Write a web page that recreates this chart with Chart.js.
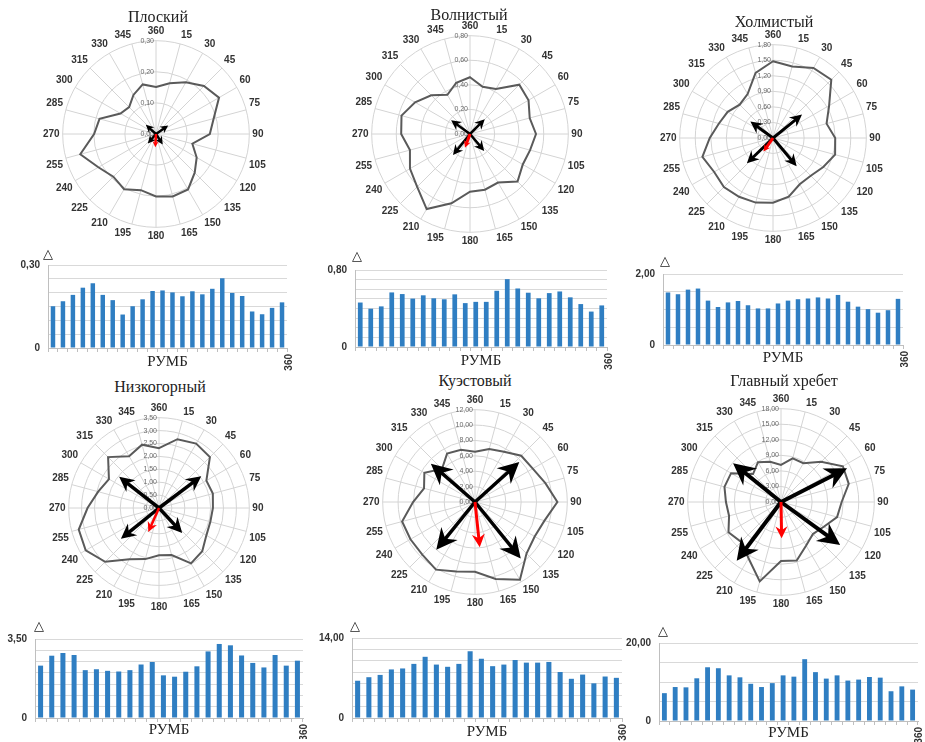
<!DOCTYPE html>
<html>
<head>
<meta charset="utf-8">
<script src="https://cdn.jsdelivr.net/npm/chart.js@4.4.1/dist/chart.umd.min.js"></script>
<style>
  html, body { margin: 0; padding: 0; background: #fff; }
  body { position: relative; width: 925px; height: 742px; overflow: hidden; font-family: "Liberation Sans", Arial, sans-serif; }
  canvas { position: absolute; }
  .title { position: absolute; font-family: "Liberation Serif", "Times New Roman", serif; font-size: 16px; color: #222; transform: translate(-50%, -50%); white-space: nowrap; }
  .delta { position: absolute; font-family: "DejaVu Sans", sans-serif; font-size: 13px; color: #222; transform: translate(-50%, -50%); line-height: 1; }
</style>
</head>
<body>
<script>
// Rhumb directions, clockwise from north
const RUMBS = ['360','15','30','45','60','75','90','105','120','135','150','165',
               '180','195','210','225','240','255','270','285','300','315','330','345'];

// Relief amplitude by rhumb for each landscape type
const FLAT     = [0.151,0.169,0.192,0.218,0.234,0.192,0.173,0.121,0.151,0.176,0.206,0.208,
                  0.201,0.187,0.205,0.194,0.214,0.252,0.199,0.188,0.132,0.122,0.145,0.165];
const WAVY     = [0.462,0.398,0.422,0.567,0.550,0.503,0.537,0.506,0.496,0.547,0.456,0.469,
                  0.469,0.584,0.705,0.608,0.564,0.506,0.560,0.577,0.516,0.446,0.368,0.432];
const HILLY    = [1.48,1.43,1.56,1.59,1.25,1.07,1.20,1.24,1.12,1.03,1.03,1.17,
                  1.25,1.29,1.31,1.34,1.31,1.41,1.22,1.08,1.01,0.91,0.98,1.30];
const LOWMOUNT = [2.32,2.76,2.88,2.79,2.12,2.16,2.09,2.06,2.12,2.37,2.48,1.89,
                  1.83,2.05,2.29,2.95,3.28,3.22,2.77,2.44,2.24,2.79,2.32,2.54];
const CUESTA   = [6.52,7.14,7.54,8.50,8.67,9.47,10.71,9.35,8.96,9.47,11.68,10.37,
                  9.07,9.35,10.15,9.69,9.69,9.81,8.05,6.86,7.60,6.07,7.26,7.03];
const RIDGE    = [7.14,8.71,8.63,10.95,13.78,13.53,11.70,11.20,9.54,8.71,9.71,11.70,
                  11.37,15.85,12.53,10.87,11.70,10.37,10.62,11.29,11.12,7.63,8.88,8.05];

// Direction vectors: [bearing in degrees, magnitude in axis units]
const FLAT_ARROWS     = [[55,0.048],[312,0.044],[221,0.040],[147,0.040]];
const WAVY_ARROWS     = [[45,0.17],[306,0.19],[219,0.22],[140,0.18]];
const HILLY_ARROWS    = [[51,0.72],[306,0.54],[226,0.70],[140,0.71]];
const LOWMOUNT_ARROWS = [[53,2.05],[308,1.96],[231,1.90],[137,1.32]];
const CUESTA_ARROWS   = [[48,7.75],[311,7.6],[219,8.0],[141,9.45]];
const RIDGE_ARROWS    = [[63,14.3],[309,11.9],[217,14.2],[126,14.1]];
// Resultant vector of each landscape
const FLAT_RESULT     = [183,0.043];
const WAVY_RESULT     = [200,0.12];
const HILLY_RESULT    = [215,0.32];
const LOWMOUNT_RESULT = [204,1.02];
const CUESTA_RESULT   = [174,5.9];
const RIDGE_RESULT    = [179,7.0];

const LANDSCAPES = [
  { title: 'Плоский',        data: FLAT,     max: 0.3, rStep: 0.1, barStep: 0.05, arrows: FLAT_ARROWS,     result: FLAT_RESULT },
  { title: 'Волнистый',      data: WAVY,     max: 0.8, rStep: 0.2, barStep: 0.1,  arrows: WAVY_ARROWS,     result: WAVY_RESULT },
  { title: 'Холмистый',      data: HILLY,    max: 1.8, rStep: 0.3, barStep: 0.5,  arrows: HILLY_ARROWS,    result: HILLY_RESULT, barMax: 2 },
  { title: 'Низкогорный',    data: LOWMOUNT, max: 3.5, rStep: 0.5, barStep: 0.5,  arrows: LOWMOUNT_ARROWS, result: LOWMOUNT_RESULT },
  { title: 'Куэстовый',      data: CUESTA,   max: 12,  rStep: 2,   barStep: 2,    arrows: CUESTA_ARROWS,   result: CUESTA_RESULT, barMax: 14 },
  { title: 'Главный хребет', data: RIDGE,    max: 18,  rStep: 3,   barStep: 5,    arrows: RIDGE_ARROWS,    result: RIDGE_RESULT, barMax: 20 }
];

// Page placement of the polar diagrams and the bar panels
const RADAR_BOX = [
  { cx: 157, cy: 134, r: 93, tx: 158, ty: 17,  lw: 2.5, head: 8,  rlw: 2.5, rhead: 6 },
  { cx: 471, cy: 134, r: 98, tx: 469, ty: 15,  lw: 2.5, head: 10, rlw: 3,   rhead: 7 },
  { cx: 774, cy: 138, r: 93, tx: 774, ty: 22,  lw: 3,   head: 12, rlw: 3,   rhead: 7 },
  { cx: 160, cy: 508, r: 90, tx: 160, ty: 387, lw: 3.5, head: 15, rlw: 2.5, rhead: 10 },
  { cx: 476, cy: 502, r: 92, tx: 475, ty: 381, lw: 3.5, head: 21, rlw: 3,   rhead: 13 },
  { cx: 782, cy: 502, r: 93, tx: 784, ty: 381, lw: 4,   head: 22, rlw: 3,   rhead: 12 }
];
const BAR_BOX = [
  { l: 48,  r: 287, t: 263, b: 348, ty: 362, dx: 48,  dy: 253 },
  { l: 355, r: 607, t: 268, b: 347, ty: 361, dx: 357, dy: 255 },
  { l: 663, r: 903, t: 272, b: 345, ty: 358, dx: 665, dy: 260 },
  { l: 35,  r: 303, t: 637, b: 718, ty: 730, dx: 39,  dy: 625 },
  { l: 352, r: 622, t: 636, b: 718, ty: 732, dx: 355, dy: 625 },
  { l: 659, r: 918, t: 641, b: 721, ty: 733, dx: 663, dy: 630 }
];

const LABEL_OVERHANG = 20;
const CENTER_SHIFT = 2;
const fmt = v => v.toFixed(2).replace('.', ',');

function addCanvas(left, top, w, h) {
  const c = document.createElement('canvas');
  c.width = w; c.height = h;
  c.style.left = left + 'px'; c.style.top = top + 'px';
  c.style.width = w + 'px'; c.style.height = h + 'px';
  document.body.appendChild(c);
  return c;
}
function addText(cls, text, x, y) {
  const d = document.createElement('div');
  d.className = cls; d.textContent = text;
  d.style.left = x + 'px'; d.style.top = y + 'px';
  document.body.appendChild(d);
}

function drawArrow(ctx, x0, y0, x1, y1, lw, head, color) {
  const ang = Math.atan2(y1 - y0, x1 - x0);
  const ux = Math.cos(ang), uy = Math.sin(ang);
  const px = -uy, py = ux;
  ctx.strokeStyle = color; ctx.fillStyle = color;
  ctx.lineWidth = lw; ctx.lineCap = 'butt';
  ctx.beginPath();
  ctx.moveTo(x0, y0);
  ctx.lineTo(x1 - ux * head * 0.6, y1 - uy * head * 0.6);
  ctx.stroke();
  const w = head * 0.5;
  const bx = x1 - ux * head, by = y1 - uy * head;
  const nx = x1 - ux * head * 0.68, ny = y1 - uy * head * 0.68;
  ctx.beginPath();
  ctx.moveTo(x1, y1);
  ctx.lineTo(bx + px * w, by + py * w);
  ctx.lineTo(nx, ny);
  ctx.lineTo(bx - px * w, by - py * w);
  ctx.closePath();
  ctx.fill();
}

// Radial tick labels beside the north spoke, and the direction vectors
const radarExtras = {
  id: 'radarExtras',
  beforeDatasetsDraw(chart) {
    const s = chart.scales.r, ctx = chart.ctx;
    ctx.save();
    ctx.font = '7px "Liberation Sans", Arial, sans-serif';
    ctx.fillStyle = '#6a6a6a';
    ctx.textAlign = 'right';
    ctx.textBaseline = 'middle';
    s.ticks.forEach(t => {
      const d = s.getDistanceFromCenterForValue(t.value);
      ctx.fillText(fmt(t.value), s.xCenter - 2, s.yCenter - d);
    });
    ctx.restore();
  },
  afterDatasetsDraw(chart, args, opts) {
    const s = chart.scales.r, ctx = chart.ctx;
    const tip = ([deg, val]) => {
      const d = s.getDistanceFromCenterForValue(val), a = deg * Math.PI / 180;
      return [s.xCenter + d * Math.sin(a), s.yCenter - d * Math.cos(a)];
    };
    ctx.save();
    opts.arrows.forEach(v => {
      const [x, y] = tip(v);
      drawArrow(ctx, s.xCenter, s.yCenter, x, y, opts.lw, opts.head, '#000');
    });
    const [rx, ry] = tip(opts.result);
    drawArrow(ctx, s.xCenter, s.yCenter, rx, ry, opts.rlw, opts.rhead, '#ff0000');
    ctx.restore();
  }
};

LANDSCAPES.forEach((L, i) => {
  const B = RADAR_BOX[i];
  const size = 2 * (B.r + LABEL_OVERHANG);
  const cv = addCanvas(B.cx - size / 2 - CENTER_SHIFT, B.cy - size / 2, size, size);
  addText('title', L.title, B.tx, B.ty);
  new Chart(cv, {
    type: 'radar',
    data: {
      labels: RUMBS,
      datasets: [{ data: L.data, borderColor: '#5a5a5a', borderWidth: 2, pointRadius: 0, fill: false, borderJoinStyle: 'miter' }]
    },
    options: {
      responsive: false, animation: false,
      layout: { padding: 0 },
      plugins: {
        legend: { display: false }, tooltip: { enabled: false },
        radarExtras: { arrows: L.arrows, result: L.result, lw: B.lw, head: B.head, rlw: B.rlw, rhead: B.rhead }
      },
      scales: {
        r: {
          min: 0, max: L.max,
          ticks: { display: false, stepSize: L.rStep },
          grid: { circular: true, color: '#d4d4d4', lineWidth: 1 },
          angleLines: { color: '#d4d4d4', lineWidth: 1 },
          pointLabels: { padding: 3, color: '#333', font: { family: '"Liberation Sans", Arial, sans-serif', size: 10, weight: 'bold' } }
        }
      }
    },
    plugins: [radarExtras]
  });
});

// Bar panels: amplitude per rhumb
LANDSCAPES.forEach((L, i) => {
  const B = BAR_BOX[i];
  const yW = 40, padR = 16, padT = 12, padB = 3;
  const axisBottom = B.ty + 9;
  const left = B.l - yW, top = B.t - padT;
  const w = B.r - B.l + yW + padR, h = axisBottom + padB - top;
  const xH = axisBottom - B.b;
  const max = L.barMax || L.max;
  const cv = addCanvas(left, top, w, h);
  addText('delta', '\u25B3', B.dx, B.dy);
  new Chart(cv, {
    type: 'bar',
    data: {
      labels: RUMBS,
      datasets: [{ data: L.data, backgroundColor: '#2f7ec2', barPercentage: 0.45, categoryPercentage: 1.0 }]
    },
    options: {
      responsive: false, animation: false,
      layout: { padding: { top: padT, right: padR, bottom: padB, left: 0 } },
      plugins: { legend: { display: false }, tooltip: { enabled: false } },
      scales: {
        x: {
          type: 'category', offset: true,
          grid: { offset: true, drawOnChartArea: false, drawTicks: true, tickLength: 4, color: '#bfbfbf' },
          border: { display: true, color: '#bfbfbf' },
          ticks: {
            autoSkip: false, minRotation: 90, maxRotation: 90, padding: 2, labelOffset: 7,
            color: '#333', font: { family: '"Liberation Sans", Arial, sans-serif', size: 10, weight: 'bold' },
            callback: (v, idx, ticks) => idx === ticks.length - 1 ? '360' : ''
          },
          title: { display: true, text: 'РУМБ', color: '#222', padding: 0,
                   font: { family: '"Liberation Serif", "Times New Roman", serif', size: 15 } },
          afterFit: s => { s.height = xH; }
        },
        y: {
          min: 0, max: max,
          grid: { color: '#d9d9d9', drawTicks: false },
          border: { display: true, color: '#bfbfbf' },
          ticks: {
            autoSkip: false, stepSize: L.barStep, padding: 8, color: '#333',
            font: { family: '"Liberation Sans", Arial, sans-serif', size: 10, weight: 'bold' },
            callback: v => Math.abs(v) < 1e-9 ? '0' : (Math.abs(v - max) < 1e-9 ? fmt(max) : '')
          },
          afterFit: s => { s.width = yW; }
        }
      }
    }
  });
});
</script>
</body>
</html>
